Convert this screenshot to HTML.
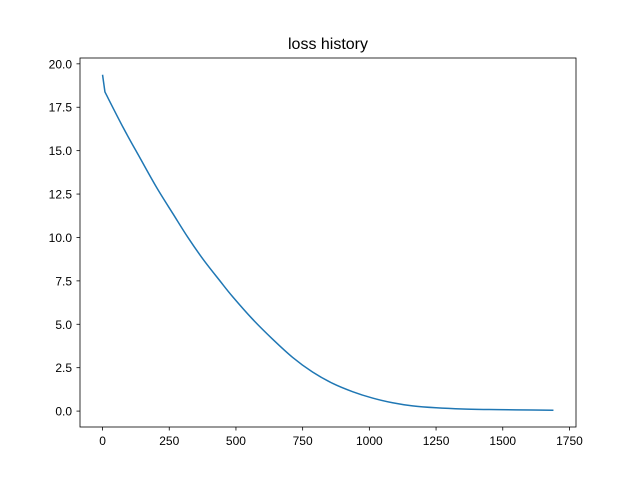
<!DOCTYPE html>
<html><head><meta charset="utf-8"><style>
body{margin:0;background:#fff}
svg{font-family:"Liberation Sans","DejaVu Sans",sans-serif}
</style></head><body>
<svg id="chart" width="640" height="480">
<rect width="640" height="480" fill="#fff"/>
<text x="328" y="49" font-size="16" text-anchor="middle">loss history</text>
<g id="xticks"></g><g id="yticks"></g>
<path id="line" fill="none" stroke="#1f77b4" stroke-width="1.5"/>
<rect x="80" y="58" width="496" height="369" fill="none" stroke="#000" stroke-width="0.8"/>
</svg>
<script>
const steps=[0,9,78,140,203,265,320,378,440,487,562,637,712,787,862,937,1012,1087,1162,1250,1350,1450,1550,1690];
const losses=[19.37,18.38,16.31,14.59,12.87,11.34,10.0,8.72,7.5,6.6,5.3,4.15,3.1,2.25,1.6,1.12,0.75,0.48,0.3,0.19,0.12,0.09,0.07,0.05];
const xTicks=[0,250,500,750,1000,1250,1500,1750];
const yTicks=[0.0,2.5,5.0,7.5,10.0,12.5,15.0,17.5,20.0];
const ns="http://www.w3.org/2000/svg";
const xmin=Math.min(...steps),xmax=Math.max(...steps),xm=(xmax-xmin)*0.05;
const ymin=Math.min(...losses),ymax=Math.max(...losses),ym=(ymax-ymin)*0.05;
const X=v=>80+(v-(xmin-xm))/((xmax+xm)-(xmin-xm))*496;
const Y=v=>427-(v-(ymin-ym))/((ymax+ym)-(ymin-ym))*369;
const P=steps.map((s,i)=>[X(s),Y(losses[i])]);
let d='M'+P[0][0]+','+P[0][1]+'L'+P[1][0]+','+P[1][1];
for(let i=1;i<P.length-1;i++){
 const p0=P[i-1<1?1:i-1],p1=P[i],p2=P[i+1],p3=P[i+2]||P[i+1];
 const c1=[p1[0]+(p2[0]-p0[0])/6,p1[1]+(p2[1]-p0[1])/6];
 const c2=[p2[0]-(p3[0]-p1[0])/6,p2[1]-(p3[1]-p1[1])/6];
 d+='C'+c1+' '+c2+' '+p2;
}
document.getElementById('line').setAttribute('d',d);
const gx=document.getElementById('xticks'),gy=document.getElementById('yticks');
xTicks.forEach(t=>{
 const l=document.createElementNS(ns,'line');
 l.setAttribute('x1',X(t));l.setAttribute('x2',X(t));l.setAttribute('y1',427);l.setAttribute('y2',430.5);l.setAttribute('stroke','#000');l.setAttribute('stroke-width','0.8');
 
 
 gx.appendChild(l);
 const tx=document.createElementNS(ns,'text');
 tx.setAttribute('x',X(t));tx.setAttribute('y',445);tx.setAttribute('font-size','12');tx.setAttribute('text-anchor','middle');tx.textContent=t;
 
 
 gx.appendChild(tx);
});
yTicks.forEach(t=>{
 const l=document.createElementNS(ns,'line');
 l.setAttribute('x1',76.5);l.setAttribute('x2',80);l.setAttribute('y1',Y(t));l.setAttribute('y2',Y(t));l.setAttribute('stroke','#000');l.setAttribute('stroke-width','0.8');
 
 
 gy.appendChild(l);
 const tx=document.createElementNS(ns,'text');
 tx.setAttribute('x',72);tx.setAttribute('y',Y(t)+4.5);tx.setAttribute('font-size','12');tx.setAttribute('text-anchor','end');tx.textContent=t.toFixed(1);
 
 
 gy.appendChild(tx);
});
</script>
</body></html>
